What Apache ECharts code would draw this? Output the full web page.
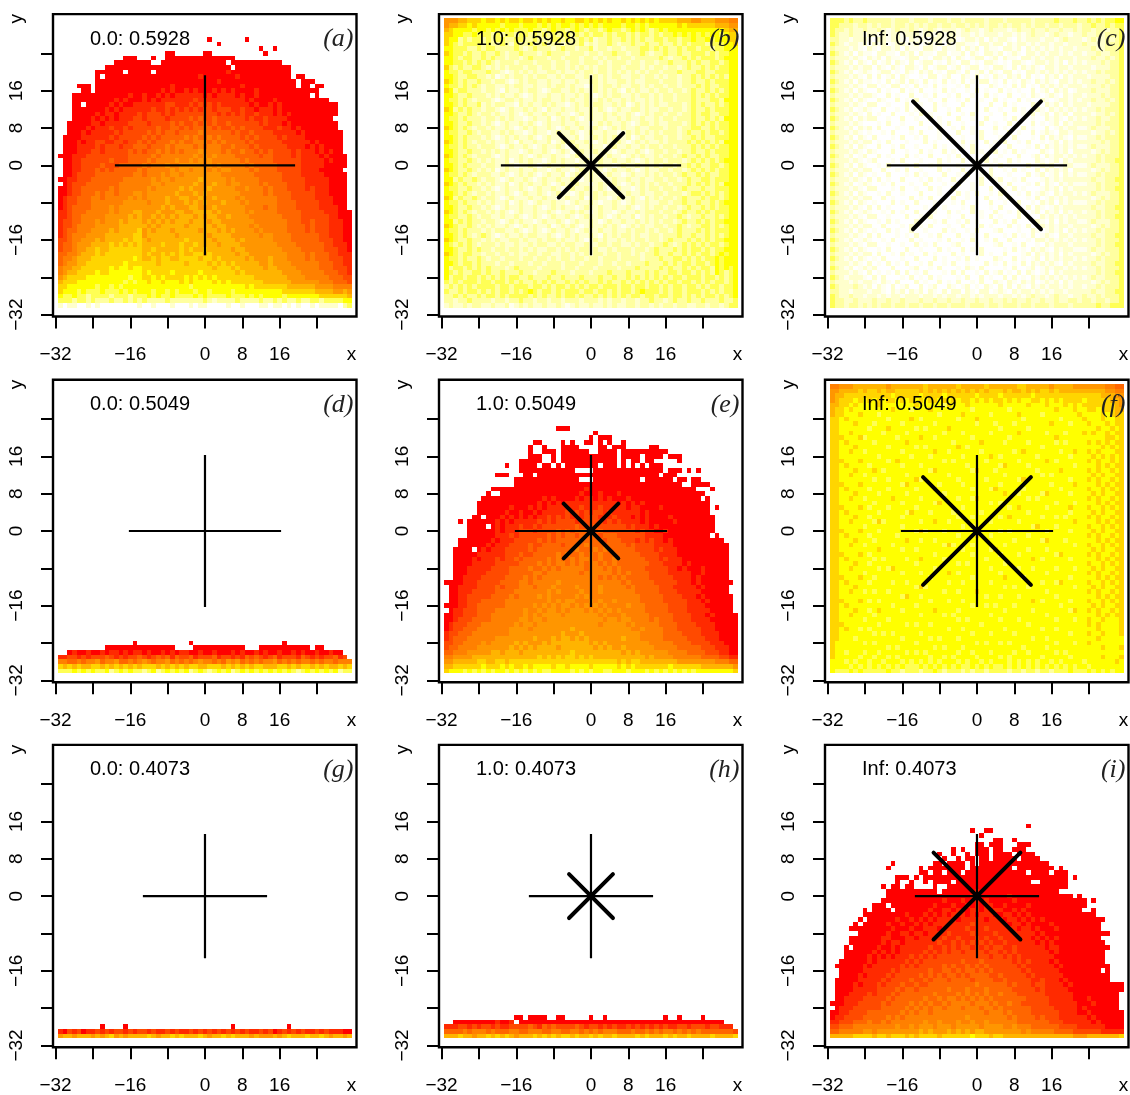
<!DOCTYPE html>
<html><head><meta charset="utf-8"><style>html,body{margin:0;padding:0;background:#fff}#c{width:1130px;height:1095px}</style>
<script src="https://cdn.jsdelivr.net/npm/echarts@6/dist/echarts.min.js"></script></head><body><div id="c"></div>
<script>
const tickValues=[-32,-24,-16,-8,0,8,16,24];
const labelValues=[-32,-16,0,8,16,31.4];
const tags=['(a)','(b)','(c)','(d)','(e)','(f)','(g)','(h)','(i)'];
const captions=['0.0: 0.5928','1.0: 0.5928','Inf: 0.5928','0.0: 0.5049','1.0: 0.5049','Inf: 0.5049','0.0: 0.4073','1.0: 0.4073','Inf: 0.4073'];
const armLengths=[19.3,19.3,19.3,16.3,16.3,16.3,13.3,13.3,13.3];
const diagLengths=[0,6.9,13.7,0,5.85,11.55,0,4.7,9.3];
const palette=['#ff0000','#ff2a00','#ff4a00','#ff6600','#ff8000','#ff9600','#ffb400','#ffd500','#ffff00','#ffff55','#ffffa0','#ffffcc','#ffffee'];
const topRows=[27,31,31,-24,22,31,-28,-26,15];
const rowsA=[
"......... ......... ......... .....0... ....0.... ......... .........",
"......... ......... ......... .......0. ......... ......... .........",
"......... ......... ......... ......... .......0. .0....... .........",
"......... ......... .....00.. ....00... ........0 ......... .........",
"......... .....000. ..0..0000 000000000 00....... ......... .........",
"......... ...000000 00..00000 000000000 .00000000 000...... .........",
"......... .00000000 000000000 000000000 0.0000000 00000.... .........",
"........0 00000.000 00.000000 000000000 100000000 00000.... .........",
"........0 .00000000 000000000 000100000 001000000 00000.00. .........",
"........0 000000000 000000000 000000010 000000000 000000.00 0........",
"....000.0 000000000 000000100 000000000 000100000 000000.00 .00......",
".....00.0 000000000 000010100 101000101 010000100 000000000 00.......",
"...000000 000000100 100101011 111101011 110100100 000000000 .0.......",
"...000000 000101000 101011111 112111111 111101000 010000000 0000.....",
"...00.000 001010011 111112211 121212121 111110100 101000000 000000...",
"...000000 010101111 112112121 212122122 211211011 101000000 000000...",
"...000001 011011112 122212122 222222212 121211211 101010000 000000...",
"...000010 101011122 122221222 232322322 222212112 111100000 00000....",
"..0000011 011111222 212222323 223232322 322222212 111010000 000000...",
"..0000101 112112122 222322332 323333232 232322221 112110100 000000...",
"..0001011 111212222 232323323 333433333 323223222 211111010 0000000..",
".00001111 112122222 323233333 434334343 333232322 221211110 0000000..",
".00010112 211221223 232333434 334443434 333323222 222111111 0100000..",
".00011112 122212233 323334344 443434443 343332322 222211110 1010000..",
".00011122 122222323 233434343 444544443 433433232 322221211 1010100.",
"000111222 222222333 334344444 445454544 443333323 322221211 11010000.",
".00112222 223222333 343444454 454545444 444343333 322222211 11101000.",
".00112222 322233333 434445445 555545454 444434333 332222211 11100000.",
".00112223 232333334 344444545 545554545 544443433 332222211 1100000..",
".00122223 333333344 344454554 555555554 444444333 333222211 11100000.",
"001122233 333334444 445455455 555655555 454444433 333222221 11110000.",
".01222333 333344444 445545555 556555655 455444434 333322221 11110000.",
"001223333 334344444 454555556 565556555 554454443 433322221 21110000.",
"001223334 344344455 455555565 556565555 555444443 433332222 21110000.",
"012233344 344444545 455556556 655655655 554544444 443332222 21111000.",
"012233344 444445555 545556555 656565556 555454444 443333222 22111000.",
"012333344 445455555 555565655 566555655 555544443 443333222 22111100.",
"112333444 445455566 555655566 556666565 555545444 443333322 222111000",
"112334444 455555656 556565656 665656655 655554444 444333322 222211000",
"122334445 455565666 565656566 656665665 555555444 444433322 322211100",
"122344445 555566666 656566666 566666566 555554544 444433332 322211100",
"123344455 556566667 565666566 666566656 565555454 444433332 322211100",
"123444555 566666677 566666656 666665666 655555545 544443333 332211100",
"223445556 566667677 656666666 766666566 665655555 544443333 332221100",
"233455566 667676767 666676667 667666656 666555555 554444333 333221110",
"233455667 667777777 667666667 676676666 656655555 555444433 333222110",
"334456667 677777777 676676767 667767666 665665555 555544443 433322111",
"344566677 777777787 667677667 777677676 666656555 655544443 433322211",
"345566777 777778777 777677777 677776767 676666655 655554444 443332211",
"455667777 778788788 777777777 777777677 767666665 665555444 443332221",
"456677778 778888888 787777877 777877777 776766666 666555544 444333221",
"567777888 888888988 778787777 878787877 777777666 666655554 444433322",
"677788888 888889898 878878887 878888787 877777776 666665555 554443332",
"778888889 889898888 888888888 898888888 888878777 777766666 655554444",
"788898999 899989898 889889898 889889888 898888888 888777777 766665565",
"899899a99 99a999a99 989899899 998989999 899989898 888988888 887777776",
"999a99a9a aa9aa9a9a 9aaaa9aaa aaaa9abaa aa9aaaa9a a9a9aa9aa 99a999988",
"b.bb..b.b ........b ..b...b.. .b.bb.... b..b...bb .bb.b.b.. b.bbbb.a9"];
const rowsB=[
"555667778 778787787 787878878 877878787 887878787 877776665 566655544",
"566778788 888988898 889898988 989898988 889889898 888887877 777766655",
"678888988 989898999 899a9899a 989a99a98 99a98989a 989888888 888888766",
"778899899 9a9a99a99 a9a9a9a99 a9a9a99a9 a99a9a99a 9a9989898 989889877",
"788a9a99a 9a99aa99a a9aaa99a9 aa9a9baa9 aa9a9a9aa 99a99a998 998988877",
"789a9999a 9aa9ab9aa 9aa9baaba aa9babaa9 abaa9aa9a a9aa9a9a9 99a999887",
"88999aa9a 99aaaa9ab a9aaaba9a abaa9baab aabaaa99a 9a9aa9a99 a99a99888",
"7899a9aa9 aa9abaa9a aaba9aaab aaabaabaa 9aabaa9ab aa9aa9aa9 99a9a9988",
"889a99aa9 a9aabaaba 9aaabaaba aabaababa abaabaaaa a9abaa9a9 a999a9888",
"8899a9a9a 9abaaabaa abaaabaab aabaaabab aaabaabaa baa9aaa9a 9aa99a988",
"79a9aa99a bababaaab aabaabaab abababaab aabaaabab aabaaba9a a9a9a9988",
"899a99aaa 9aabcbaba babbaabab babaabaab ababababa abaaa9aaa 99aa99988",
"889aa99aa bacbabaab abaabbaba abbababab aabbaabaa babaabaa9 a9a9a9a88",
"789a9aa9a abaabcbab aabbabbab babbaabab baababbaa abaaabaa9 aa9a99988",
"899a9a9ab aabbabaab babbabaab abbcbabaa babbaabab aabaabaaa 9a9aa9988",
"78a99aaab aabcabbab aabcbaabb ababbabab abcababba baabaaba9 aa9a9a988",
"889aa9aaa bababbabc babbabbab bababcbab aabbabaab abaabaaa9 a9a9a9988",
"899a9abaa abcbaabab babaabbab abbabbaba bbababbab abaabaaa9 aaa99a888",
"889a9aa9b abaabbcab abbababbc bababaabb abacbabab abbaaaba9 a9aa9a988",
"78a9a9aab aabcbabba babcabbab babbababc babbaabab baabaaba9 aa9a99988",
"889aa9aba ababbabcb abbabbabb cbababbab abbabcbab aabaabaa9 a99aa9988",
"899a9aaab aabababbc babbacbab abcbabbab bababbabb abaabaaa9 aa9a9a888",
"889aa9aab abcbabbab abcbabbab babbcbaba bbabcbaab abbaaaba9 a9a9a9988",
"789a9abaa babbabcba babbabcba bbabbabcb ababbabba aabaabaa9 9aa9a9988",
"899aa9aba abbababbc babbcbabb abcbabbab bcbababab abaaaba9a a9a99a988",
"889a9aaab abcbababb abcbabbab bacbbabab abbacbabb aabaabaa9 a9aa99988",
"789a9abaa babbabcab babbacbab abbabcbab babcbabab babaaaa9a 9a9a9a888",
"899a9aaba aabcbabba bcbabbabc babbabbcb abbabbaba abaabaaa9 a9a9a9988",
"889aa9aab abababbcb abbabcbab cbabbabab cbabbabcb aabaabaa9 aa9a99988",
"789a9abaa abcbabbab cbabbabbc babbcbaba bbcbababb abaaba9aa 9a9aa9988",
"899aa9aba babbacbab abbcbabab bcbabbabb abbabcbab aabaaaba9 a9a9a9888",
"889a9aaab aabbabcbb abcbabbab babbcbabb cbabbabab abaabaa9a 9aa99a988",
"789aa9aba bacbabbab babbcbabb cbabbabcb abbabcbab baabaaba9 a9a9a9988",
"899a9abaa abbabcbab abcbabbac babbabcba bbcbabbab abaaba9aa 9a9aa9988",
"88a9aa9ab aabcbabba bcbabbabb abcbabbcb abbabbabb aabaaba9a a99a99988",
"789a9aaba babbacbab abbabcbab babbcbabb abcbababa baabaaa9a 9a9a9a888",
"899aa9aab abcbabbab cbabbabcb abbabbabc babbcbaba abaaba9aa a9aa99988",
"889a9abaa babbabcba bbabcbabb cbabbabab bcbabbabb aabaaaba9 9a9a9a988",
"78a9aa9ab aabcbabbb abbabbcba bbacbabbc babbabcab abaaba9aa a9a99a988",
"899a9aaba babbacbab cbabbabbc babbabcbb abcbabbab baabaa9aa 9aa9a9888",
"889aa9aab abcbabbab babcbabab bcbabbabb abbabcbab aabaaba9a a9a9a9988",
"789a9abaa bababcbab babbabcbb ababcbabb cbabbabaa abaaba9aa 9a9a99988",
"899aa9aba abbabbabc babcbabba bcbabbabc babbacbab aabaa9aba a9aa9a988",
"88a9a9aab aabcbabab bcbabbabc babbabcba bbabbabab abaaba9aa 9a9a99888",
"789aa9aba babbabcba babbacbab abcbabbab abcbababb aabaa9aba a99a9a988",
"899a9aaab abaabbabc babcbabba bcbabbabb abbabaaba baaba9aaa 9a9a99988",
"889a9aba9 abcbabbab aabbabcba babbabcab abaababba abaaa9aa9 aa9a9a988",
"789aa9aab ababbaaba bbabaabab babcbabab bababaaba aba9aaa9a 9a9a99888",
"89a9a9aba aababbabb abaabbaba abbabbaab aabbabaab aa9aba9a9 a9a99a988",
"889aa9a9a abaabaaba babbaabab abaababba baaabaaba 9aaa9a9a9 9a9a99888",
"789a99aab aabaababb aabaabbaa bababaaba abaababaa 9aa9aa9a9 a99a98988",
"899a9aa9a baabaaaba abaababaa baabaabaa abaaaabaa a9aa99a9a 9a9989888",
"889a99a9a aabaabaaa baabaaaba aabaaabaa baabaaa9a aa9a9a99a 99a989888",
"8a99a9a9a 9aaaba9aa aabaaaaba abaaabaaa abaaa9aaa a9a9aa9a9 a99a89898",
"89a9aa99a 9aa9aaa9a abaaa9aaa baaabaaa9 aaa9aaa9a 9aa99a99a 9a9a89a98",
"8a99a99a9 a9a9a99aa 9aaa9aa9a aa9aaa9aa 9aa9a9a9a 9a9a99a99 9a99a9a98",
"9a9a999a9 9a99a9a9a a9a9a9aa9 a9a9aa9a9 aa9a9a9a9 a9a99a99a 9a9a99a98",
"a9a9a9a99 99a99a999 a99a9a99a 9a9a99a99 9a99a99a9 9a9a99a99 a9a99a998",
"9aa9a99a9 a9a99a9a9 89a99a9a9 99a99a99a 9a99a9899 9a9a99a99 9a9a9a998",
"aa9a9aa9a 99a9a9999 a9a9aa9a9 9a9aa9a9a 9a9a99a99 a99a99a9a 9a99a9a98",
"aabaa9aaa abaabaa9a abaabaaba aabaaabab aabaabaa9 aaba9aa9a a9aaa9aa9",
"babbabaab babbacbab abbabbabc babbabbab abbaabaab abaabaabb aabaaba99"];
const rowsC=[
"999a9aa9a aaaabaaab aaabaaaba abaaaabaa abaaaaaba aaa9aaa9a a9a9a9988",
"99aaabaab abaabaaba babaabaab aabababaa babaababa abaabaaab aa9aa9a99",
"9aababbab babcbabba bcbabcbbb cbabbcbab bbcbabbab babbabbab aabaabaa9",
"9abbabbcb bcbcbbcbb bcbbcbcbb cbbcbcbbb cbbcbcbab bcbabbcbb abbabaaa9",
"aabbcbbbc .bbcbbc.b cbc.bbcbb .cbbcb.bc bbc.bcbbb cbbcbabbb cbabbaba9",
"9abcbbcb. bcb.cbbcc b.cbcb.bc bbcc.bbcb b.bcbbcbc bbcbbcbbb abbbbaaa9",
"abbbcbc.b c.bbcb.bc c.bbc.bcc b.bcb.bcc .bbcb.bcb cbcbcbbcb bbabbaaa9",
"9abcb.bcc .bbcc.bcb .bcc.bb.c cb.bc.bbc b.cbc.bbc bcbbcbcbb cbbabbaa9",
"abbbcbc.b cb.bcc.cb b.c.bbcb. bc.cbb.cb .bcc.bbcb cbbcbbbcb bbabbaba9",
"9abcb.bc. b.cb.bc.b .cbb.c.bc .bb.c.bbc .c.bbc.cb bcbcb.bcb cbbbabaa9",
"abbbcbcbb .bc.bc.bb c.b.cbb.c b.cbb.c.b bc.b.bcbc .bbcbbcbb bbcbbbaa9",
"9abcb.cbc .cbb.c.bc .bcb.c.bb c.b.cb.bc .bb.c.bbc bcbcbcbcb cbbabaaa9",
"abbbcbc.b .b.cb.bc. .c.bb.cb. .bc.b.c.b c.bcb.b.c .bcb.bcbb bcbbbbaa9",
"9abcb.bcc .c.b.cb.b c.b.c.b.c .b.c.bb.c .b.c.bc.b cbc.bbcbc bbabbaba9",
"abbbcbc.b b.c.bb.c. b.c.b.c.. c.b.c..bc .c.b.b.c. bcbcbcbbb cbbbabaa9",
"9abcb.bc. .b.c..b.c .b..c.b.c ..c.b.c.. b.c.c..b. cb.bcb.cb bbabbbaa9",
"abbbcbcbb c..b.c..b ..c.b..c. b..c..b.c ..b..c.bc .cbc.bcbb cbbbabaa9",
"9abcb.bc. .bc..b.c. b..c..b.. c.b..c..b .c..b.c.. bc.cbbcbc bbabbaba9",
"abbbcbc.b b..c...b. .c..b.c.. .b..c..b. .b.c...bc .bcb.bcbb bcbbbbaa9",
"9abcb.cbc ..b..c.b. c...b..c. b...c.b.. c..b.c..b c.bcbcbcb cbbabaaa9",
"abbbcbc.b .c..b...c .b.c...b. .c.b...c. .b...c.b. cb.bcb.bb bbcbbaba9",
"9abcb.bcb b..c..b.. c..b.c... b..c..b.. .c.b...c. .bcbc.bcb cbbabbaa9",
"abbbcbc.. .c.b..c.. .b...c.b. .c...b..c ..b.c..b. c.cb.bcbb bbbabaaa9",
"9abcb.bcb .b...c..b ...c.b..c .b.c....b .c...b.c. .b.cbcbbc cbabbbaa9",
"abbbcbc.c ..c.b...c .b...c... b..c.b..c ..b.c..b. cbc.bbcbb bbcbbaba9",
"9abcb.bc. b...c.b.. c.b..c.b. .c...b... c..b...c. b.bcbc.bc cbbabaaa9",
"abbbcbcbb .c.b...c. ..b.c...c .b.c..b.c .b..c.b.. c.cb.bcbb bbbbabaa9",
"9abcb.bc. .b..c.b.. c...b.c.. .c.b...c. ..b...c.b .bcbcbcbc cbabbbaa9",
"abbbcbc.b c...b..c. .b.c..b.c ...b.c..b .c.b.c... bc.bcb.bb bbcbabaa9",
"9abcb.cb. .b.c...b. c..b...c. b.c...b.. c...b..cb .bcbbcbcb cbbabaaa9",
"abbbcbc.c b...c.b.. .c...b.c. .b..c.b.c ..b.c...b c.cb.bcbb bbbabaa99",
"9abcb.bc. .c.b...c. b..c.b... c...b..c. b.c...b.c bcb.cbbcc cbabbbaa9",
"abbbcbcbb ..b..c.b. .c...b.c. .b.c...b. .c.b.c..b .bcbcb.bb bbcbabaa9",
"9abcb.bc. c..b...c. b.c...b.. c.b..c.b. ..c...b.c b.cb.bcbc cbbabaaa9",
"abbbcbc.b .b.c..b.. .c.b.c..b .c...b..c b..c.b... cbcbcbbbb bbabbaa99",
"9abcb.cbc ..c.b...c ..b...c.. b..c.b... c.b...c.b .bc.bcbcc cbbabaaa9",
"abbbcbc.b b...c.b.. c..b.c..b ...c...b. .c.b.c... cbcb.bcbb bbbabaa99",
"9abcb.bc. .c.b..c.. .b...c... b.c.b..c. b...c.b.c bc.bcbbcb cbabbbaa9",
"abbbcbcbb ..b.c...b .c.b..c.b ..c...b.. c.b...c.b .cbcbcbbb bbcbabaa9",
"9abcb.bc. c...b.c.. b...c...c .b..c..b. .c..b..c. bcb.bcbcc cbbabaaa9",
"abbbcbc.b .b.c...b. ..c.b.c.. .c.b...c. b...c.b.b c.cbcbbbb bbabbaa99",
"9abcb.cbc ..c.b.c.. b...c..b. c..b.c..b ..c.b..cb .bcb.bcbb cbbabaaa9",
"abbbcbc.b b..c...b. .c.b...c. .b...c.b. c...b.c.. bcbcbcbcb bbbabaa99",
"9abcb.bc. .c.b.c... b...c.b.. c.b.c...b .c.b...cb c.b.bcbbc cbabbbaa9",
"abbbcbcbb ..b...c.b .c.b...c. .b...b.c. ..b.c.b.. bcbcbbcbb bbcbabaa9",
"9abcb.bc. c..b.c..b ..c...b.c ..c.b...c b...c..bc .cbcb.bcb cbbabaaa9",
"abbbcbc.b .b...c.c. b..c.b... b..c..b.. .c.b.c.b. cbc.bbcbb bbabbaa99",
"9abcb.cbc ..c.b...b .c...c.b. .c.b..c.b ..b...c.b bcbcbcbcb cbbabaaa9",
"abbbcbc.b b..c..c.. b.c.b...c b...c...c b..c.b..c .bcbbbcbb bbbabaa99",
"9abcb.bc. .c.b...b. .c...b.c. .b.c.b... .c.b.c.bc bc.bcbbcc cbabbaaa9",
"abbbcbcbb .b..c.b.c ..b.c...b .c...b.c. .b...cb.b cbcb.bcbb bbcbabaa9",
"9abcb.bc. c.b...c.. b...b.c.. c.b.c...b c..b.c.cb .bcbcbbcb cbbabaaa9",
"abbbcbc.b .c.b.c.b. .c.b..c.b ..c...b.c .b.c.b.bc bcbc.bcbb bbabbaa99",
"9abcb.cbc b...b...c b..c.b... c.bc.b... .c.b..cb. cbcbbcbcb cbbabaaa9",
"abbbcbc.b .c.c.b.b. c.b...c.b .b..c.b.c b.c.b.bc. cb.bcbbbb bbbabaa99",
"9abcbbbc. b.b...c.b .c.b.c... c.b..b.c. .b.b.c.bc bcbcbcbcb cbabbaaa9",
"abbbcbcbb c.bc.b... b.c..b.c. b..c.b..b c.bc.bcb. cbcb.bcbb bbcbabaa9",
"9abbbabcb .bc.b.cb. .b.cb..bc .cb.c.bc. b.b.bc.bc bcbbcbcbb cbbabaaa9",
"aabbcbbbc bbc.bcb.b cb.bc.b.b b.bc.bb.c bc.bcbbcb cbcbbcbbb bbabbaa99",
"9abbabbcb bcbcbbcbb bcbbcbcbb cbbcbcbbb cbbcbcbab bcbabbcbb abbabaaa9",
"9aabbabbb abbabbabb babbabbab babbabbab bababbabb abbabbaab aabaabaa9",
"9aabaabab abaabaaba abaabaaba aabaaabaa baaabaaba aabaaabaa aaa9aa999"];
const rowsD=[
"......... .......0. ......... .0....... ......... ...0..... .........",
"......... .00000000 0000000.. ..0000000 0000...00 000000000 .00......",
"..0100100 101101011 010010101 100100100 010100101 001001010 0100100..",
"112212122 232121223 212323132 231222312 212132321 231222132 12122312.",
"443343445 344533434 543445343 434544343 545343434 453434344 343443444",
"767676677 676767676 777676767 677667776 767676776 667767677 676766767",
"999898989 98a989899 a98a98989 8a989a989 8a9898989 898989a98 989898a99"];
const rowsE=[
"......... ......... ......000 ......... ......... ......... .........",
"......... ......... ......... .....0... ......... ......... .........",
"......... ......... ......... ....0.000 ......... ......... .........",
"......... ......... .00....0. 0..00.0.0 ..0...... ......... .........",
"......... ......... 0..0...00 00....00. 000.....0 0........ .........",
"......... ......... 0..000.00 0000..000 0.0000000 000...... .........",
"......... ......... 000..0.00 000000000 0.0000.00 00.000... .........",
"......... .......00 000..0.00 000000000 0.0.00.00 .....0... .........",
"......... ....0..00 00.00.0.0 000000.00 0.0.0.0.0 00....... .........",
"......... .......00 000000000 0....0000 000000000 00.000.0. 0........",
"......... ..000...0 0.0000000 000000000 000000000 0.000.... .........",
"......... ......000 000000000 00...0000 000000.00 0000.00.0 0........",
"......... ......000 000000000 000000000 000000000 000000..0 000......",
"......... .00000000 000000000 000100000 000000000 000000000 ...0.....",
"......... 0..000000 000000000 001000100 010000000 000000000 00.......",
"........0 000000000 000101000 010110101 000100000 000000000 0.0......",
".......00 000000000 001010101 111111111 101010100 000000000 000......",
".......00 000001000 101011111 112111211 111011000 010000000 000.0....",
".......00 000010010 010111112 121212212 111111010 000000000 000......",
"......00. 000101010 101121212 121222121 211101010 000100000 0000.....",
"...0.0000 001010111 112121222 212222212 121111010 000010000 0000.....",
".....0000 .01011121 121222222 232223222 222121110 100000000 0000.....",
".....0000 001011122 212222323 233332322 222221211 001000000 0000.....",
".....0000 001112122 222232323 323333233 322222211 110000000 000.0....",
"...000000 010111222 223232333 333333323 332221212 110100000 000000...",
"...000000 101112222 322333323 333433333 333232222 111100000 0000000..",
"..0000.01 011122222 323333333 343334343 333332222 121110000 0000000..",
"..0000011 111122232 233333434 334343433 333333222 211110000 0000000..",
"..0000101 112122323 333343433 434443433 433333322 212111000 0000000..",
"..0000111 112222233 334343443 434344343 433333332 221111010 0000000..",
"..0001111 122223333 433434344 444344434 343333322 222110100 0100000..",
"..0001111 222223333 344344444 443444444 343433332 222111110 0100000..",
"..0011112 222233334 343444444 444444343 434333332 222211110 1000000..",
"000011122 222333344 344444544 444444444 443433333 222221110 10000000.",
".00111122 223233344 434445444 454444544 444343333 322211111 0100000..",
".00111222 223333444 444454544 445444544 444443333 322221111 1000000..",
".00112222 233334344 445454444 454544444 444444333 332222111 01000000.",
".00112223 333344444 444454545 544454544 544444333 332222211 10100000.",
"000112233 333344444 454545455 454545454 444544433 333222211 11000000.",
".01122233 334444445 445455454 555454545 454444433 333222211 11100000.",
"001122233 344444445 454555545 555555454 445444443 333322221 110100000",
"001222333 344444455 455455555 555555545 545544443 433322221 111000000",
"012223334 444444545 545555555 555555455 555454444 433332222 111100000",
"012233344 444445555 455555555 655555555 555544544 443332222 211100000",
"122333444 444445555 555555565 556555555 555555444 443333222 211110000",
"123334444 445555555 565556566 565655555 556555444 443333322 221110000",
"223344445 455555656 555656666 666656565 555555554 444433332 222111000",
"233444455 555556565 656666566 666665656 556555555 444443333 322211100",
"334445555 566566656 666666666 766666666 665656555 555444433 332221100",
"445555666 666666666 667676767 767676666 666666656 555544444 433332211",
"556666677 667767777 777777777 777777777 767677666 666665555 555544433",
"667777778 777878778 788887887 888878888 878787777 777877777 766666665",
"788898989 898898989 898998888 989898899 888988898 989898989 888888887"];
const rowsF=[
"445556666 666566666 667666666 766666766 666677666 665666655 555554433",
"556666767 767667777 767676767 676767677 767667676 776766666 666665544",
"566777777 777787777 787777877 777787777 877777787 777777777 777766655",
"567778787 878778787 878778787 877878787 787878877 878787777 877777665",
"667787888 878888888 788888978 887888888 788888788 878887878 777777765",
"677878888 888878889 888788888 888988888 889888888 888788878 877877766",
"677888788 898888888 888889888 878888898 888878888 988888887 888878767",
"778788888 888988887 898888888 988878888 888889888 888898888 788878877",
"778887888 988888988 888898888 888898889 888988888 887888988 878887877",
"778888889 888788888 989888878 888888888 988888988 888888888 888788787",
"778878888 889888898 888888988 898888898 888878888 898889888 787887877",
"777888798 888889888 878898888 888988888 889888888 888788888 888887787",
"778788888 988888878 888888889 888887888 898888988 888989888 878787877",
"778887888 888988888 989888888 789888888 888888888 988888888 888878787",
"778878898 888888988 888878898 888889888 888987888 888898878 878788877",
"778888888 898888889 888988888 898888878 988888889 888888988 887878787",
"777888788 888987888 888888989 888888988 888898888 878988888 878788787",
"778788889 888888988 898888888 889888888 978888988 888888898 888787877",
"778887888 789888888 888978888 888978889 888888889 888878888 878788787",
"778878898 888888898 888888898 888888888 898888888 989888888 887878877",
"778888888 988988888 798888888 988888988 888897888 888888988 878788787",
"777888788 888888978 888889888 898888888 988888888 889888878 888787877",
"778788889 888988888 988878888 888988897 888889888 888898888 878878787",
"778887888 898888898 888888988 888888888 878898888 978888988 887878877",
"778878898 888878888 898888888 988978888 888888989 888888888 878788787",
"778888888 988888988 888897888 888888898 988888888 888988898 888787877",
"777888789 888988888 988888888 898888888 889878888 898888788 878878787",
"778788888 898888897 888988889 888889888 888888988 888888988 887878877",
"778887889 888888988 888888888 988988888 987888888 988989888 878788787",
"778878888 979888888 898878898 888888898 888898888 888888878 888787877",
"778888898 888888988 888888888 898988888 888888897 888988888 878878787",
"777888788 898888888 979888988 888888888 989888888 898888988 887878877",
"778788889 888889888 888888888 988878898 888888988 888888888 878788787",
"778887888 988888878 898898888 888888888 888988888 978889888 888787877",
"778878898 888898888 888888979 888988888 898888888 888888898 878878787",
"778888888 878888988 988888888 898888897 888888988 898888888 887878877",
"777888789 888888888 888898888 888988888 988898888 888978888 878788787",
"778788888 989888898 878888988 888888988 888888878 988888988 888787877",
"778887889 888888888 988888888 989888888 898888888 888888888 878878787",
"778878888 898978888 888898888 888888898 888898898 888988898 887878877",
"778888898 888888988 898888878 988888888 988888888 898888888 878788787",
"777888788 988888888 888988888 888988888 878889888 888888988 888787877",
"778788889 888898898 888888898 898888898 888888888 988978888 878878787",
"778887888 888888888 979888888 888888888 898988988 888888898 887878877",
"778878898 988988888 888888988 988878888 888888888 898888888 878788787",
"778888888 888888978 898888888 888888988 988898888 888988888 888787877",
"777888789 898888888 888988898 898888888 888888878 988888988 878878787",
"778788888 888898888 988888888 888988989 888988888 888898888 887878877",
"778887889 878888988 888878888 988888888 898888898 888888978 878788787",
"778878888 988888888 898888989 888888898 888888888 898888888 888787877",
"778888898 888988888 888888888 989888888 988898888 888988898 878878887",
"777888888 898888898 988988888 888889888 888888988 888888888 878788887",
"778788989 888888888 888888898 898888888 898888888 988988888 888788887",
"778888888 989898888 898888888 888988898 888988888 888888988 878878887",
"778889888 888888988 888989888 988888888 888888898 898888888 888788888",
"788888898 988888888 988888888 888898988 989888888 888988898 878888888",
"788888888 888989888 888898988 898888888 888889888 898888888 888878887",
"788988898 898888898 989888888 988988898 888988988 888989888 888888888",
"788888988 988989888 888988989 888898888 989888888 988888988 888878887",
"888989889 889888989 898989888 989889898 889898989 889898888 988888878",
"888898989 898989899 989898989 899898989 989898989 898989898 898888888",
"899989899 999899a99 9a9989a99 9a9a99a99 99a99a99a 99a999899 989898988"];
const rowsG=[
"......... 0....0... ......... ......... .0....... ....0.... .........",
"102120112 121221212 212112121 121212121 212121121 201212121 121211100",
"566566656 567565666 676566767 666765667 676665655 565676667 667656656"];
const rowsH=[
"......... ......00. 0000..00. ....0..0. ......... ..0..0... .0.......",
"..0000000 001001.00 000000000 000000000 000000000 000000000 000000...",
"111221212 212112222 321323222 232122121 211212121 212112212 22122111.",
"333343444 343334433 444334433 443434344 433343343 434434343 433333332",
"666766566 767676566 676767677 676676766 766667676 667676676 666766667"];
const rowsI=[
"......... ......... ......... ......... ......0.. ......... .........",
"......... ......... ......... ...0..00. ......... ......... .........",
"......... ......... ......... .....0... ......... ......... .........",
"......... ......... ......... ........0 0..0..... ......... .........",
"......... ......... ......... ....00.00 0...000.. ......... .........",
"......... ......... ........0 .0..000.0 0..000... ......... .........",
"......... ......... .....0..0 ..0.000.0 000.0000. ......... .........",
"......... ......... ......0.. 0.00.00.0 0000.0000 ......... .........",
"......... ....0.... ....00.00 00.0.0000 000000000 00....... .........",
"......... ...0..... .0.000000 00.000000 000.00000 000.0.... .........",
"......... ......... .00.00.00 0.0000000 000000.00 00.000... .........",
"......... .....000. 0.0000000 000000000 000000000 000000.0. .........",
"......... .....0..0 ..0.0000. 000000000 0000000.. 000000... .........",
"......... ..0.00.00 ....0..00 000000000 000000000 000000... .........",
"......... ...000000 00000.000 000010000 000000000 0000..... .........",
"......... ...000000 000000000 000100000 001000000 0000000.0 .........",
"......... ..0000000 000000100 010010100 000100000 000000000 0.0......",
"......... 000.00000 000010001 001010110 010000100 000000000 0........",
".......0. 0000.0000 000100110 100110101 100101000 000000000 ..0......",
".......00 000000010 001010101 110101110 011010100 000000000 000......",
"......0.0 000001001 010101111 011111011 101101010 100000000 00000....",
".....0.00 000100100 101011111 111211111 110110100 001000000 0000.....",
"....00000 000010001 001110111 112111211 111101101 000100000 0000.....",
"......000 000100110 110111121 111211112 111111110 100000000 000000...",
"....00000 001100011 011111211 211121211 211111101 010100000 0000.....",
"....00000 001011011 111112112 121212121 121111110 101000000 00000....",
"...0.0000 010010111 111211212 122121212 211211111 101100000 000000...",
"...000000 101010111 112121212 212222122 121211111 110100000 00000....",
"...000001 010101112 121212222 222222212 212121111 111000000 00000....",
"..0000001 011111121 212222222 232223222 222121211 110100000 00000....",
".00000010 111111212 122222323 223232322 222212111 111010000 000000...",
"..0000011 111121222 222322332 323323232 222221211 111100000 0000.0...",
"..0000101 111212222 232323233 232333322 322222121 111110000 000000...",
".00000111 112122223 223233323 333233332 232222211 211101000 000000...",
".00001011 121222322 322333333 333343333 332322212 211110100 000000000",
".00001111 122223233 233333343 334333433 333222221 211111000 000000000",
".00011112 122232333 333343333 434343433 433322222 211111100 00000000.",
".00111122 222323333 334334344 343434343 333333222 221111100 01000000.",
"000111222 223233334 343433434 444344434 334332222 221111110 00100000.",
".01112222 223333343 434344344 434443443 433333322 222111110 10000000.",
"001122223 333333434 344344444 444444344 434333322 222211110 010000000",
"011222233 333434344 444444444 445444444 443433332 322211111 101000000",
"112223334 334344444 445445444 544544544 444433333 332221111 110100000",
"223334444 444445445 455545554 555554555 544544433 333322221 111110000",
"334444455 455555555 565655565 656566555 555554544 444333322 222211111",
"666667777 677677767 677776777 777877767 766666666 666666655 566666667"];
const panelRows=[rowsA,rowsB,rowsC,rowsD,rowsE,rowsF,rowsG,rowsH,rowsI];

const boxLefts=[53,439,825], boxTops=[14.1,379.8,744.9], boxW=303.5, boxH=302.4;
const FONT='"Liberation Sans",Arial,sans-serif';
const grids=[],xAxes=[],yAxes=[],series=[],graphics=[];
function axisCommon(isX,min,max){
  return {type:'value',min,max,splitLine:{show:false},axisLine:{show:false,onZero:false},
    axisTick:{show:true,customValues:tickValues,length:12,lineStyle:{color:'#000',width:2}},
    axisLabel:{show:true,customValues:labelValues,color:'#000',fontFamily:FONT,fontSize:19,margin:isX?29:27,hideOverlap:false,showMinLabel:true,showMaxLabel:true,rotate:isX?0:90,
      formatter:v=>v>30?(isX?'x':'y'):(v<0?'\u2212'+(-v):String(v))}};
}
function parsePanel(rows,top){
  const out=[];
  rows.forEach((r,ri)=>{
    const s=r.replace(/ /g,'');
    for(let i=0;i<63&&i<s.length;i++){
      if(s[i]==='.')continue;
      out.push([i-31,top-ri,parseInt(s[i],36)]);
    }
  });
  return out;
}
function renderCell(params,api){
  const u=api.value(0),v=api.value(1);
  const p0=api.coord([u-0.5,v+0.5]),p1=api.coord([u+0.5,v-0.5]);
  const x=Math.round(p0[0]),y=Math.round(p0[1]);
  return {type:'rect',shape:{x,y,width:Math.round(p1[0])-x,height:Math.round(p1[1])-y},style:{fill:palette[api.value(2)]},silent:true};
}
panelRows.forEach((rows,i)=>{
  const col=i%3,row=Math.floor(i/3),L=boxLefts[col],T=boxTops[row];
  grids.push({left:L,top:T,width:boxW,height:boxH,show:true,borderColor:'#000',borderWidth:2.4,backgroundColor:'#fff',containLabel:false,outerBoundsMode:'none',z:0});
  xAxes.push(Object.assign(axisCommon(true,-32.55,32.45),{gridIndex:i}));
  yAxes.push(Object.assign(axisCommon(false,-32.4,32.4),{gridIndex:i}));
  series.push({type:'custom',xAxisIndex:i,yAxisIndex:i,coordinateSystem:'cartesian2d',renderItem:renderCell,data:parsePanel(rows,topRows[i]),encode:{x:0,y:1},clip:true,progressive:0,animation:false,silent:true,z:1});
  const a=armLengths[i],d=diagLengths[i];
  const lines=[[[-a,0],[a,0],2.2],[[0,-a],[0,a],2.2]];
  if(d>0){lines.push([[-d,-d],[d,d],4]);lines.push([[-d,d],[d,-d],4]);}
  lines.forEach(l=>series.push({type:'line',xAxisIndex:i,yAxisIndex:i,data:[l[0],l[1]],symbol:'none',silent:true,animation:false,z:3,lineStyle:{color:'#000',width:l[2],cap:l[2]>3?'round':'butt'}}));
  graphics.push({type:'text',left:L+37,top:T+15,z:10,style:{text:captions[i],font:'20px '+FONT,fill:'#000'}});
  graphics.push({type:'text',right:1130-(L+boxW-3),top:T+12,z:10,style:{text:tags[i],font:'italic 26px "Liberation Serif",serif',fill:'#222'}});
});
const chart=echarts.init(document.getElementById('c'),null,{renderer:'canvas',width:1130,height:1095});
chart.setOption({animation:false,backgroundColor:'#fff',grid:grids,xAxis:xAxes,yAxis:yAxes,series,graphic:graphics,tooltip:{show:false}});
</script>
</body></html>
